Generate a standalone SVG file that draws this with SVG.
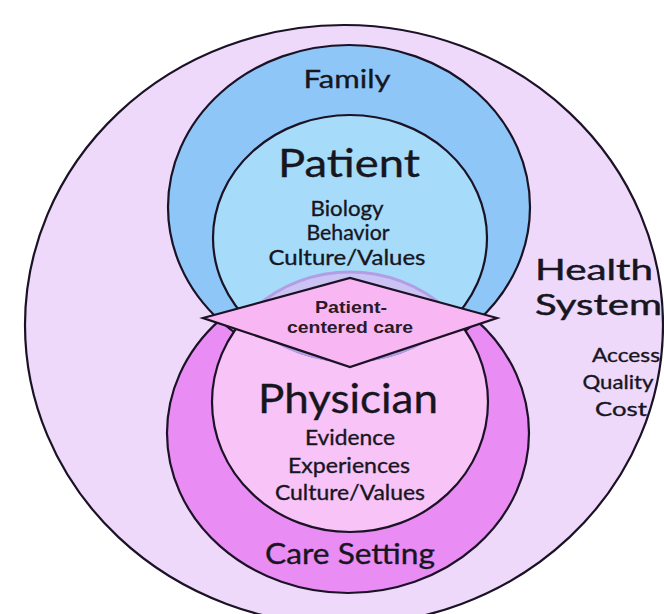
<svg xmlns="http://www.w3.org/2000/svg" width="664" height="614" viewBox="0 0 664 614">
<defs>
<style>
.ln{stroke:#1b1226;stroke-width:2.2}
.t{font-family:Lato,"Open Sans","DejaVu Sans",sans-serif;fill:#17161f;stroke:#17161f;stroke-width:0.35;text-anchor:middle}
.s{font-family:Lato,"Open Sans","DejaVu Sans",sans-serif;fill:#17161f;stroke:#17161f;stroke-width:0.45;text-anchor:start}
.b{font-family:"Liberation Sans",Arial,sans-serif;font-weight:bold;fill:#2a1a2a;text-anchor:middle}
.faint{stroke:#b39ee6;stroke-width:3}
</style>
<clipPath id="cpBlue"><ellipse cx="350" cy="238" rx="137" ry="123"/></clipPath>
<clipPath id="cpPink"><ellipse cx="350" cy="402" rx="138" ry="130"/></clipPath>
</defs>
<rect width="664" height="614" fill="#ffffff"/>
<g id="health-system">
<ellipse cx="344" cy="325" rx="319" ry="300" fill="#efd9fb" class="ln"/>
<text class="s" x="535" y="280" font-size="29" textLength="118" lengthAdjust="spacingAndGlyphs">Health</text>
<text class="s" x="535" y="315" font-size="29" textLength="127" lengthAdjust="spacingAndGlyphs">System</text>
<text class="t" x="626" y="362" font-size="19" textLength="68" lengthAdjust="spacingAndGlyphs">Access</text>
<text class="t" x="618" y="389" font-size="19" textLength="71" lengthAdjust="spacingAndGlyphs">Quality</text>
<text class="t" x="621" y="416" font-size="19" textLength="52" lengthAdjust="spacingAndGlyphs">Cost</text>
</g>
<g id="care-setting">
<ellipse cx="348" cy="433" rx="181" ry="160" fill="#e98cf4" class="ln"/>
<text class="t" x="350" y="564" font-size="28" textLength="170" lengthAdjust="spacingAndGlyphs">Care Setting</text>
</g>
<g id="family">
<ellipse cx="349" cy="207" rx="181" ry="162" fill="#8ec7f7" class="ln"/>
<text class="t" x="347" y="88" font-size="25" textLength="87" lengthAdjust="spacingAndGlyphs">Family</text>
</g>
<g id="physician">
<ellipse cx="350" cy="402" rx="138" ry="130" fill="#f8c3f6" class="ln"/>
</g>
<g id="patient">
<ellipse cx="350" cy="238" rx="137" ry="123" fill="#a6dcfa" class="ln"/>
</g>
<g id="overlap">
<g clip-path="url(#cpBlue)"><ellipse cx="350" cy="402" rx="138" ry="130" fill="#cbc3f3" class="faint"/></g>
<g clip-path="url(#cpPink)"><ellipse cx="350" cy="238" rx="137" ry="123" fill="none" class="faint"/></g>
</g>
<g id="patient-labels">
<text class="t" x="349" y="177" font-size="38" textLength="142" lengthAdjust="spacingAndGlyphs">Patient</text>
<text class="t" x="347" y="216" font-size="21" textLength="73" lengthAdjust="spacingAndGlyphs">Biology</text>
<text class="t" x="348" y="240" font-size="21" textLength="83" lengthAdjust="spacingAndGlyphs">Behavior</text>
<text class="t" x="347" y="265" font-size="21" textLength="157" lengthAdjust="spacingAndGlyphs">Culture/Values</text>
</g>
<g id="physician-labels">
<text class="t" x="348" y="413" font-size="40" textLength="180" lengthAdjust="spacingAndGlyphs">Physician</text>
<text class="t" x="350" y="445" font-size="21" textLength="90" lengthAdjust="spacingAndGlyphs">Evidence</text>
<text class="t" x="349" y="473" font-size="21" textLength="122" lengthAdjust="spacingAndGlyphs">Experiences</text>
<text class="t" x="350" y="500" font-size="21" textLength="150" lengthAdjust="spacingAndGlyphs">Culture/Values</text>
</g>
<g id="patient-centered-care">
<polygon points="203,318 350,278 497,318 350,367" fill="#f8b7f3" class="ln"/>
<text class="b" x="351" y="313" font-size="16.5" textLength="72" lengthAdjust="spacingAndGlyphs">Patient-</text>
<text class="b" x="350" y="333" font-size="16.5" textLength="126" lengthAdjust="spacingAndGlyphs">centered care</text>
</g>
<g id="connectors"/>
</svg>
